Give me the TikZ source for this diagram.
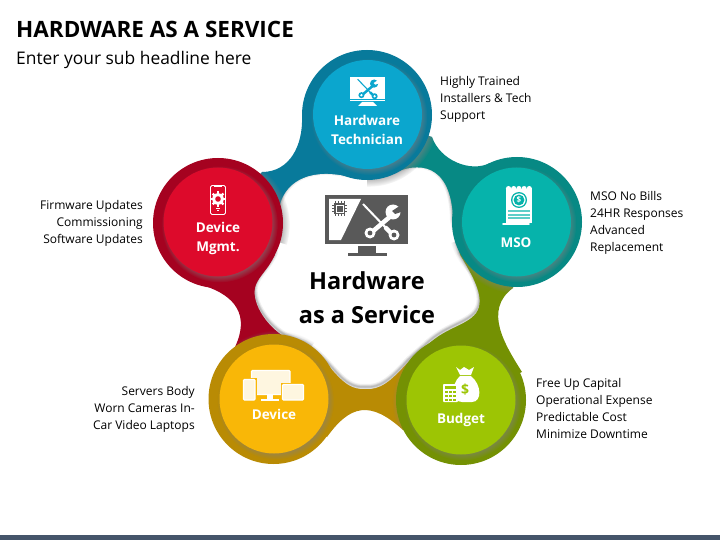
\documentclass[tikz,border=0pt]{standalone}
\usepackage{fontspec}
\setmainfont{Open Sans}
\usetikzlibrary{shadows,fadings}

\definecolor{hwdisc}{RGB}{11,166,206}
\definecolor{hwring}{RGB}{8,122,155}
\definecolor{msodisc}{RGB}{6,179,171}
\definecolor{msoring}{RGB}{7,137,132}
\definecolor{bgdisc}{RGB}{157,197,4}
\definecolor{bgring}{RGB}{116,145,3}
\definecolor{dvdisc}{RGB}{249,183,7}
\definecolor{dvring}{RGB}{185,139,4}
\definecolor{mgdisc}{RGB}{221,10,43}
\definecolor{mgring}{RGB}{165,2,32}
\definecolor{iconback}{RGB}{89,89,89}
\definecolor{barcol}{RGB}{69,85,106}

\tikzset{
  ring/.style={circle,inner sep=0pt,minimum size=130pt},
  ringshade/.style={ring,circular drop shadow={shadow xshift=1.5pt,shadow yshift=-1.5pt,shadow scale=1.08,opacity=.7}},
  disc/.style={circle,inner sep=0pt,minimum size=109pt,circular drop shadow={shadow xshift=1.5pt,shadow yshift=-2pt,shadow scale=1.07,opacity=.65}},
  hublabel/.style={text=white,font=\fontsize{13.5}{19}\selectfont\bfseries,align=center},
  notes/.style={font=\fontsize{12}{17}\selectfont,align=left,anchor=west,inner sep=0pt},
  notesleft/.style={font=\fontsize{12}{17}\selectfont,align=right,anchor=east,inner sep=0pt}
}

% outlines of the ribbons and of the white middle
\def\ribhw{(367,115) -- (302,117) .. controls (303,145) and (290,172) .. (262,172) -- (218,223) -- (367,270) -- cycle}
\def\ribmso{(516.5,222) -- (490,163) .. controls (470,173) and (440,160) .. (432,137) -- (367,115) -- (367,270) -- cycle}
\def\ribbg{(461,400) -- (522,372) .. controls (505,345) and (483,310) .. (513,288) -- (516.5,222) -- (367,270) -- cycle}
\def\ribdv{(273.5,399) -- (327,437) .. controls (350,405) and (370,400) .. (403,430) -- (461,400) -- (367,270) -- cycle}
\def\ribmg{(218,223) -- (205,286) .. controls (235,296) and (250,315) .. (235,347) -- (273.5,399) -- (367,270) -- cycle}
\def\blobpath{(280,205) .. controls (285,185) and (305,168) .. (345,176) -- (395,173)
  .. controls (415,163) and (452,160) .. (453,222) -- (460,255)
  .. controls (470,272) and (487,298) .. (476,313) .. controls (466,326) and (445,327) .. (425,347) -- (408,362)
  .. controls (390,382) and (380,390) .. (365,389) .. controls (340,390) and (335,365) .. (305,345) -- (285,337)
  .. controls (265,325) and (250,300) .. (256,285) .. controls (260,275) and (268,270) .. (275,255) -- cycle}

% crossed wrench and screwdriver
\newcommand{\toolsicon}[4]{%
\begin{scope}[shift={(#1)},scale=#2]
\draw[#3,line width=#2*2pt] (-18,-16) -- (6,9);
\draw[#3,line width=#2*4.5pt,line cap=round] (5,8) -- (10,13);
\draw[#3,line width=#2*4.5pt] (11,-5) -- (-9,12);
\fill[#3] (12,-8) circle (7.5);
\fill[#4] (17,-13) -- (11,-9) -- (14,-6) -- (20,-8) -- (21,-14) -- cycle;
\fill[#3] (-11,13) circle (5.5) (13,15) circle (5.5);
\fill[#4] (-11,13) circle (2.4) (13,15) circle (2.4);
\end{scope}}

\begin{document}
\begin{tikzpicture}[x=1pt,y=-1pt]
\useasboundingbox (0,0) rectangle (720,540);
\fill[barcol] (0,535) rectangle (720,540);

\node[anchor=west,inner sep=0pt,font=\fontsize{22.5}{26}\selectfont\bfseries] (title) at (16,29) {HARDWARE AS A SERVICE};
\node[anchor=west,inner sep=0pt,font=\fontsize{17.4}{22}\selectfont] (subtitle) at (16,60) {Enter your sub headline here};

% ribbons
\fill[hwring] \ribhw;
\fill[msoring] \ribmso;
\fill[bgring] \ribbg;
\fill[dvring] \ribdv;
\fill[mgring] \ribmg;

% white middle with its soft edge
\fill[white] \blobpath;
\begin{scope}
\clip \blobpath;
\foreach \w in {1,2,3,4,6}
  \draw[black,opacity=.06,line width=\w pt,yshift=2pt] \blobpath;
\end{scope}

% each ring throws its shade on the ribbon under it
\foreach \rib/\cx/\cy in {\ribmso/367/115,\ribbg/516.5/222,\ribdv/461/400,\ribmg/273.5/399,\ribhw/218/223}{
\begin{scope}
\clip \rib;
\node[ringshade] at (\cx,\cy) {};
\end{scope}}

\node[ring,fill=hwring] (hwouter) at (367,115) {};
\node[ring,fill=msoring] (msoouter) at (517,222) {};
\node[ring,fill=bgring] (bgouter) at (461,400) {};
\node[ring,fill=dvring] (dvouter) at (273.5,399) {};
\node[ring,fill=mgring] (mgouter) at (218,223) {};

\node[disc,fill=hwdisc] (hwinner) at (367.5,114.5) {};
\node[disc,fill=msodisc] (msoinner) at (516.5,222) {};
\node[disc,fill=bgdisc] (bginner) at (461,400) {};
\node[disc,fill=dvdisc] (dvinner) at (274,399) {};
\node[disc,fill=mgdisc] (mginner) at (218,222) {};

% middle icon
\fill[iconback] (325,195) rectangle (408,244);
\fill[white] (329,199) -- (361,199) -- (341,240) -- (329,240) -- cycle;
\fill[iconback] (334,203) rectangle (345,214);
\foreach \p in {335,338,341,344}
  \draw[iconback,line width=.6pt] (\p,201) -- (\p,216);
\foreach \p in {205,208,211}
  \draw[iconback,line width=.6pt] (332,\p) -- (347,\p);
\draw[white,line width=.6pt] (336,205) rectangle (343,212);
\toolsicon{381,220}{1}{white}{iconback}
\fill[iconback] (358,246) rectangle (376,253);
\fill[iconback] (348,253) rectangle (387,256);

% hardware technician icon
\fill[white] (350,77) rectangle (385,99);
\fill[white] (350,100) rectangle (385,100.8);
\fill[white] (362,102) -- (373,102) -- (377,106) -- (358,106) -- cycle;
\toolsicon{367.5,88}{.55}{hwdisc}{white}

% device mgmt icon
\draw[white,line width=.8pt,rounded corners=1.5pt] (210.5,185.5) rectangle (225.5,214.5);
\draw[white,line width=1.2pt] (214,186) -- (222,186);
\fill[white] (218,199) circle (5.8);
\foreach \a in {0,45,...,315}
  \draw[white,line width=2.2pt] (218,199) -- ++(\a:7.6);
\fill[mgdisc] (218,199) circle (2.8);
\draw[white,line width=.7pt] (216,208) -- (220,208) (217,210) -- (219,210);

% mso icon
\fill[white] (506,189) rectangle (532,223);
\foreach \p in {508.5,513.7,518.9,524.1,529.3}
  \fill[white] (\p,188.6) circle (2.6);
\draw[white,line width=1.6pt,line cap=round] (503,224) -- (529,224);
\fill[msodisc] (519,200) circle (8);
\fill[white] (519,200) circle (6.6);
\fill[msodisc] (519,200) circle (5.4);
\node[text=white,inner sep=0pt,font=\fontsize{8}{8}\selectfont\bfseries] (msocoin) at (519,200) {\$};
\foreach \p in {210.5,214,217.5}
  \fill[msodisc!65] (508,\p) rectangle (530,\p+2);

% device icon
\draw[white,line width=1.2pt,fill=white,fill opacity=.88,rounded corners=1pt] (251.5,370.5) rectangle (290,394.5);
\fill[white] (267,395) rectangle (273,399);
\fill[white] (261,399) rectangle (279,400.5);
\fill[dvdisc] (242,378) rectangle (257,401.5);
\draw[white,line width=1.2pt,fill=white,fill opacity=.88,rounded corners=1pt] (243.5,379.5) rectangle (255,400);
\fill[dvdisc] (280.5,382.5) rectangle (305,401.5);
\draw[white,line width=1.2pt,fill=white,fill opacity=.88,rounded corners=1pt] (282.5,384.5) rectangle (303.5,400);

% budget icon
\fill[white] (456,367) -- (460,370) -- (464,367) -- (469,370) -- (474,367) -- (471,375) -- (460,375) -- cycle;
\fill[white] (460,376) .. controls (450,385) and (452,402) .. (462,402) -- (472,402) .. controls (482,402) and (482,385) .. (471,376) -- cycle;
\node[text=bgdisc,inner sep=0pt,font=\fontsize{14}{14}\selectfont\bfseries] (bgdollar) at (465,390) {\$};
\fill[white,rounded corners=.8pt] (443,384) rectangle (458,402);
\fill[bgdisc] (445,386) rectangle (456,389);
\foreach \p in {445,449,453}
  \foreach \q in {391,395,399}
    \fill[bgdisc] (\p,\q) rectangle (\p+2.6,\q+2.4);

% hub labels
\node[hublabel] (hwlabel) at (367,129.5) {Hardware\\Technician};
\node[hublabel] (msolabel) at (516,243) {MSO};
\node[hublabel] (bglabel) at (461,420) {Budget};
\node[hublabel] (dvlabel) at (274,414.5) {Device};
\node[hublabel] (mglabel) at (218,238) {Device\\Mgmt.};

\node[align=center,font=\fontsize{23.5}{34}\selectfont\bfseries] (midlabel) at (367,298) {Hardware\\as a Service};

% side notes
\node[notes] (hwnotes) at (440,99.5) {Highly Trained\\Installers \& Tech\\Support};
\node[notes] (msonotes) at (590,223) {MSO No Bills\\24HR Responses\\Advanced\\Replacement};
\node[notes] (bgnotes) at (536,408.5) {Free Up Capital\\Operational Expense\\Predictable Cost\\Minimize Downtime};
\node[notesleft] (dvnotes) at (195,409) {Servers Body\\Worn Cameras In-\\Car Video Laptops};
\node[notesleft] (mgnotes) at (143,223.5) {Firmware Updates\\Commissioning\\Software Updates};
\end{tikzpicture}
\end{document}
